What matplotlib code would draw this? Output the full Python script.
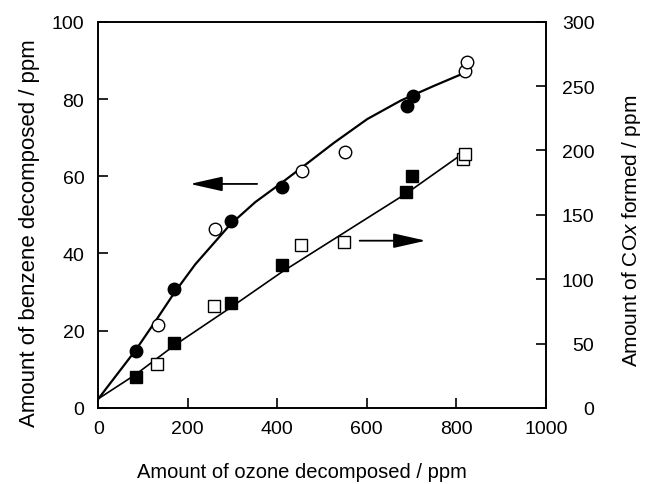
import matplotlib.pyplot as plt

plt.rcParams['font.family'] = ['Liberation Sans', 'DejaVu Sans']
plt.rcParams['mathtext.fontset'] = 'custom'
plt.rcParams['mathtext.rm'] = 'Liberation Sans'
plt.rcParams['mathtext.it'] = 'Liberation Sans:italic'

# benzene decomposed (left axis), ppm
benz_fill_x = [84, 170, 297, 411, 689, 704]
benz_fill_y = [14.6, 30.8, 48.5, 57.3, 78.3, 80.9]
benz_open_x = [133, 262, 455, 552, 819, 823]
benz_open_y = [21.5, 46.3, 61.3, 66.4, 87.3, 89.6]

# fitted curve for benzene
benz_curve_x = [0, 84, 127, 170, 217, 295, 351, 411, 470, 526, 601, 676, 750, 817]
benz_curve_y = [2.3, 15.0, 22.3, 29.8, 37.2, 47.5, 53.3, 58.4, 63.6, 68.6, 74.8, 79.6, 83.4, 86.7]

# COx formed (right axis), ppm
cox_fill_x = [84, 170, 296, 410, 688, 702]
cox_fill_y = [23.8, 50.5, 81.5, 111, 167.5, 180]
cox_open_x = [131, 259, 452, 549, 816, 819]
cox_open_y = [34.2, 79, 126.6, 129.1, 193.3, 197]

cox_line_x = [0, 84, 170, 296, 410, 690, 816]
cox_line_y = [7, 26, 48.5, 78, 105.5, 167, 198]

fig = plt.figure(figsize=(6.46, 4.85), dpi=100)
ax = fig.add_axes([0.152, 0.157, 0.693, 0.796])
ax2 = ax.twinx()

ax.plot(benz_curve_x, benz_curve_y, color='black', lw=1.6, zorder=2)
ax.plot(benz_fill_x, benz_fill_y, 'o', ms=9, mfc='black', mec='black', zorder=3)
ax.plot(benz_open_x, benz_open_y, 'o', ms=9, mfc='white', mec='black', mew=1.0, zorder=3)

ax2.plot(cox_line_x, cox_line_y, color='black', lw=1.2, zorder=2)
ax2.plot(cox_fill_x, cox_fill_y, 's', ms=8, mfc='black', mec='black', zorder=3)
ax2.plot(cox_open_x, cox_open_y, 's', ms=8, mfc='white', mec='black', mew=1.0, zorder=3)

# arrows pointing to the axis each series belongs to
arrow = dict(arrowstyle='-|>,head_length=2.0,head_width=0.45', color='black',
             lw=1.3, shrinkA=0, shrinkB=0, mutation_scale=10)
ax.annotate('', xy=(205, 58), xytext=(355, 58), arrowprops=arrow)
ax.annotate('', xy=(732, 43.3), xytext=(584, 43.3), arrowprops=arrow)

ax.set_xlim(0, 1000)
ax.set_ylim(0, 100)
ax2.set_ylim(0, 300)
ax.set_xticks([0, 200, 400, 600, 800, 1000])
ax.set_yticks([0, 20, 40, 60, 80, 100])
ax2.set_yticks([0, 50, 100, 150, 200, 250, 300])

ax.tick_params(axis='x', direction='in', length=7, width=1.2, labelsize=14, pad=9, top=False)
ax.tick_params(axis='y', direction='in', length=7, width=1.2, labelsize=14, pad=10)
ax2.tick_params(axis='y', direction='in', length=7, width=1.2, labelsize=14, pad=35)
for lab in ax2.get_yticklabels():
    lab.set_horizontalalignment('right')

for a in (ax, ax2):
    for sp in a.spines.values():
        sp.set_linewidth(1.2)

ax.set_xlabel('Amount of ozone decomposed / ppm', fontsize=14.5, va='center')
ax.xaxis.set_label_coords(0.455, -0.166)
ax.set_ylabel('Amount of benzene decomposed / ppm', fontsize=16, va='center')
ax.yaxis.set_label_coords(-0.153, 0.456)
ax2.set_ylabel('Amount of CO$\\it{x}$ formed / ppm', fontsize=15, va='center')
ax2.yaxis.set_label_coords(1.192, 0.46)

fig.savefig('out.png', dpi=100)
